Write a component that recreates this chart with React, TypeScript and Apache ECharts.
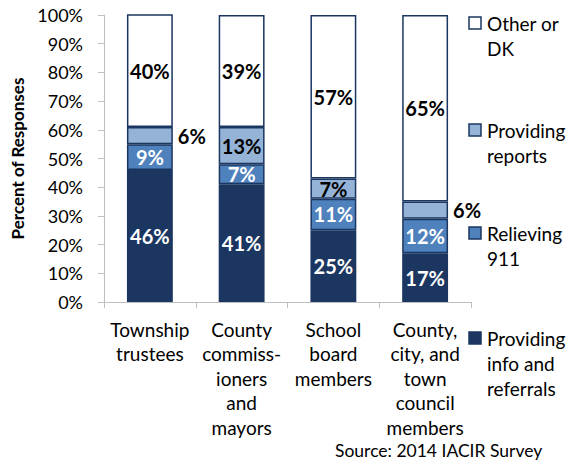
import React, { useEffect, useRef } from "react";
import * as echarts from "echarts";

const categories = [
  "Township\ntrustees",
  "County\ncommiss-\nioners\nand\nmayors",
  "School\nboard\nmembers",
  "County,\ncity, and\ntown\ncouncil\nmembers",
];
const seriesNames = [
  "Providing info and referrals",
  "Relieving 911",
  "Providing reports",
  "Other or DK",
];
const legendLabels = ["Other or\nDK", "Providing\nreports", "Relieving\n911", "Providing\ninfo and\nreferrals"];
const infoReferrals = [46, 41, 25, 17];
const relieving911 = [9, 7, 11, 12];
const providingReports = [6, 13, 7, 6];
const otherDK = [40, 39, 57, 65];
const yTicks = [0, 10, 20, 30, 40, 50, 60, 70, 80, 90, 100];

const FONT = "Lato";
const BORDER = "#1B3660";
const colors = ["#1B3660", "#4F81BD", "#95B3D7", "#FFFFFF"];
const labelColors = ["#FFFFFF", "#FFFFFF", "#000000", "#000000"];

export default function App() {
  const ref = useRef<HTMLDivElement>(null);
  useEffect(() => {
    if (!ref.current) return;
    const chart = echarts.init(ref.current, undefined, { renderer: "svg" });
    const values = [infoReferrals, relieving911, providingReports, otherDK];
    const series = values.map((vals, si) => ({
      name: seriesNames[si],
      type: "bar",
      stack: "total",
      barWidth: "50%",
      clip: true,
      itemStyle: { color: colors[si], borderColor: BORDER, borderWidth: 1.5 },
      data: vals.map((v) => ({
        value: v,
        label: {
          show: true,
          position: v < 7 ? "right" : "inside",
          distance: 5,
          formatter: "{c}%",
          color: v < 7 ? "#000000" : labelColors[si],
          fontFamily: FONT,
          fontWeight: "bold",
          fontSize: 20,
        },
      })),
    }));
    const legendTops = [23, 130, 233, 338];
    const legendOrder = [3, 2, 1, 0];
    const graphic: any[] = [];
    legendOrder.forEach((si, i) => {
      const cy = legendTops[i];
      graphic.push({
        type: "rect",
        shape: { x: 469, y: cy - 6, width: 12, height: 12 },
        style: { fill: colors[si], stroke: BORDER, lineWidth: 1.5 },
      });
      graphic.push({
        type: "text",
        x: 487,
        y: cy - 12.5,
        style: {
          text: legendLabels[i],
          fontFamily: FONT,
          fontSize: 19,
          lineHeight: 25,
          fill: "#000000",
          verticalAlign: "top",
        },
      });
    });
    graphic.push({
      type: "text",
      x: 335,
      y: 450,
      style: {
        text: "Source: 2014 IACIR Survey",
        fontFamily: FONT,
        fontSize: 17.5,
        lineHeight: 17,
        fill: "#000000",
        verticalAlign: "middle",
      },
    });
    chart.setOption({
      animation: false,
      backgroundColor: "#FFFFFF",
      grid: { left: 104, right: 105, top: 15, bottom: 159, containLabel: false },
      xAxis: {
        type: "category",
        data: categories,
        axisLine: { lineStyle: { color: "#BFBFBF", width: 1 } },
        axisTick: { show: true, length: 6, lineStyle: { color: "#BFBFBF" } },
        axisLabel: {
          interval: 0,
          margin: 15,
          fontFamily: FONT,
          fontSize: 19,
          lineHeight: 24.5,
          color: "#000000",
        },
      },
      yAxis: {
        type: "value",
        min: 0,
        max: 100,
        interval: 10,
        name: "Percent of Responses",
        nameLocation: "middle",
        nameGap: 64,
        nameTextStyle: { fontFamily: FONT, fontSize: 17, fontWeight: "bold", color: "#000000" },
        axisLine: { show: true, lineStyle: { color: "#BFBFBF", width: 1 } },
        axisTick: { show: true, length: 6, lineStyle: { color: "#BFBFBF" } },
        splitLine: { show: false },
        axisLabel: {
          margin: 21,
          fontFamily: FONT,
          fontSize: 18,
          color: "#000000",
          formatter: (v: number) => (yTicks.includes(v) ? v + "%" : ""),
        },
      },
      series,
      graphic,
    });
    return () => chart.dispose();
  }, []);
  return (
    <div
      ref={ref}
      style={{ position: "fixed", left: 0, top: 0, width: 576, height: 461 }}
    />
  );
}
